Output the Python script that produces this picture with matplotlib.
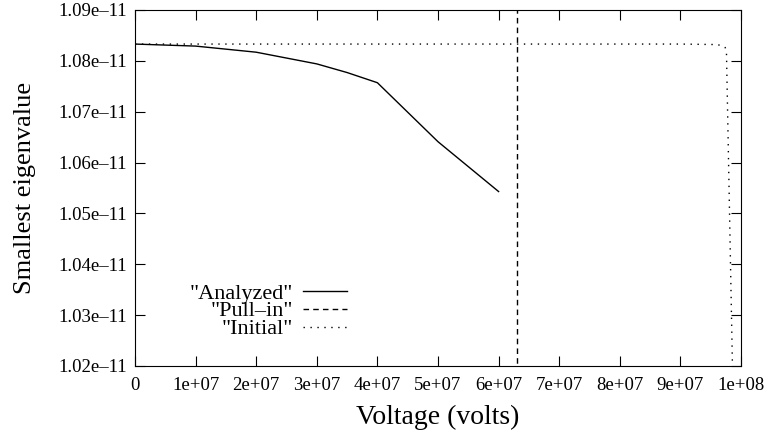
import numpy as np
import matplotlib
matplotlib.use('Agg')
import matplotlib.pyplot as plt
from matplotlib.ticker import FuncFormatter

analyzed_v = [0, 1e7, 2e7, 3e7, 3.5e7, 4e7, 5e7, 6e7]
analyzed_e = [1.0833e-11, 1.0829e-11, 1.0817e-11, 1.0794e-11, 1.0777e-11,
              1.0757e-11, 1.0641e-11, 1.0543e-11]

pullin_v = [6.3e7, 6.3e7]
pullin_e = [1.0e-11, 1.1e-11]

initial_v = [0, 9.0e7, 9.6e7, 9.68e7, 9.74e7, 9.76e7, 9.86e7]
initial_e = [1.0833e-11, 1.0833e-11, 1.0832e-11, 1.0830e-11, 1.0826e-11,
             1.0815e-11, 1.0190e-11]

xticks = np.arange(0, 1.01e8, 1e7)
yticks = np.arange(1.02e-11, 1.0901e-11, 0.01e-11)

plt.rcParams['font.family'] = 'Liberation Serif'

fig = plt.figure(figsize=(7.66, 4.40), dpi=100)
ax = fig.add_axes([0.1762, 0.1682, 0.7912, 0.8091])

ax.plot(analyzed_v, analyzed_e, color='black', lw=1.0, label='"Analyzed"')
ax.plot(pullin_v, pullin_e, color='black', lw=1.0, linestyle=(0, (4, 3)), label='"Pull\u2013in"')
ax.plot(initial_v, initial_e, color='black', lw=1.0, linestyle=(0, (1, 4)), label='"Initial"')

ax.set_xlim(0, 1e8)
ax.set_ylim(1.02e-11, 1.09e-11)
ax.set_xticks(xticks)
ax.set_yticks(yticks)
ax.xaxis.set_major_formatter(FuncFormatter(lambda v, p: '0' if v == 0 else '%.0e' % v))
ax.yaxis.set_major_formatter(FuncFormatter(lambda v, p: ('%.2e' % v).replace('-', '\u2013')))
ax.tick_params(direction='in', length=7, width=0.8, top=True, right=True,
               labelsize=13.5, colors='black')
ax.tick_params(axis='x', pad=8)
ax.tick_params(axis='y', pad=6)
for s in ax.spines.values():
    s.set_linewidth(0.8)

ax.set_xlabel('Voltage (volts)', fontsize=20, labelpad=8)
ax.set_ylabel('Smallest eigenvalue', fontsize=19, labelpad=16)

leg = ax.legend(loc='lower right', bbox_to_anchor=(0.35, 0.075), frameon=False,
                markerfirst=False, fontsize=16, handlelength=2.0, handletextpad=0.45,
                labelspacing=-0.12, borderaxespad=0, borderpad=0)

fig.savefig('out.png', dpi=100)
